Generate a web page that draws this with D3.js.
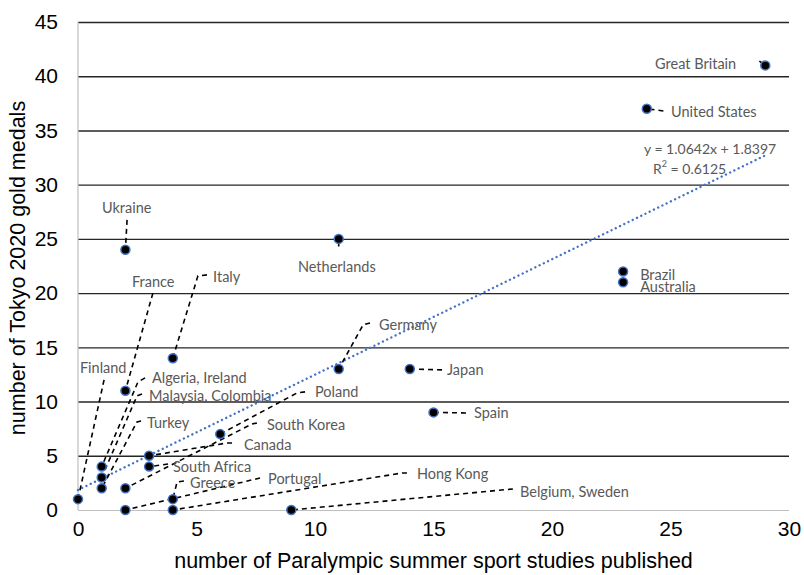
<!DOCTYPE html>
<html>
<head>
<meta charset="utf-8">
<script src="https://cdn.jsdelivr.net/npm/d3@7/dist/d3.min.js"></script>
<style>
  html, body { margin: 0; padding: 0; background: #fff; }
  svg { display: block; }
</style>
</head>
<body>
<svg id="chart" width="804" height="575"></svg>
<script>
// Countries: studies published vs. Tokyo 2020 Paralympic gold medals
const countries = ["Great Britain", "United States", "Brazil", "Australia", "Netherlands",
  "Ukraine", "France", "Italy", "Germany", "Japan", "Spain", "Poland", "South Korea",
  "Canada", "South Africa", "Greece", "Portugal", "Hong Kong", "Belgium, Sweden",
  "Finland", "Algeria, Ireland", "Malaysia, Colombia", "Turkey"];
const studies = [29, 24, 23, 23, 11, 2, 2, 4, 11, 14, 15, 6, 2, 3, 3, 4, 2, 4, 9, 0, 1, 1, 1];
const golds   = [41, 37, 22, 21, 25, 24, 11, 14, 13, 13, 9, 7, 2, 5, 4, 1, 0, 0, 0, 1, 4, 3, 2];

// Linear trend fitted to the points
const trendSlope = 1.0642;
const trendIntercept = 1.8397;
const trendR2 = 0.6125;

const xTicks = [0, 5, 10, 15, 20, 25, 30];
const yTicks = [0, 5, 10, 15, 20, 25, 30, 35, 40, 45];

// Label placement (data units): text anchor and leader bend points toward the marker
const labelLayout = [
  { at: [24.35, 41.2], lead: [[28.75, 41.4]] },
  { at: [25.02, 36.75], lead: [[24.7, 36.8]] },
  { at: [23.72, 21.75], lead: [] },
  { at: [23.72, 20.6], lead: [] },
  { at: [9.28, 22.5], lead: [[11, 24.3]] },
  { at: [1.01, 27.9], lead: [[2.07, 26.75]] },
  { at: [2.28, 21.1], lead: [[3.16, 20.0]] },
  { at: [5.7, 21.5], lead: [[5.44, 21.68], [5.06, 21.59]] },
  { at: [12.7, 17.15], lead: [[12.32, 17.25], [12.03, 17.07]] },
  { at: [15.57, 12.92], lead: [[15.36, 12.92]] },
  { at: [16.71, 8.95], lead: [[16.37, 8.95]] },
  { at: [10.0, 10.9], lead: [[9.58, 10.89], [9.24, 10.79]] },
  { at: [7.97, 7.93], lead: [[7.55, 8.03], [7.34, 7.93]] },
  { at: [7.0, 6.0], lead: [[6.5, 6.18], [6.29, 6.18]] },
  { at: [4.01, 4.05], lead: [[3.8, 4.24]] },
  { at: [4.73, 2.55], lead: [[4.47, 2.68], [4.18, 2.58]] },
  { at: [8.02, 2.95], lead: [[7.68, 2.95]] },
  { at: [14.3, 3.41], lead: [[13.88, 3.41], [13.67, 3.41]] },
  { at: [18.65, 1.75], lead: [[18.35, 1.94]] },
  { at: [0.08, 13.1], lead: [[1.1, 12.0]] },
  { at: [3.12, 12.18], lead: [[2.83, 12.18], [2.53, 11.81]] },
  { at: [3.0, 10.6], lead: [[2.7, 10.7], [2.49, 10.52]] },
  { at: [2.91, 8.03], lead: [[2.66, 8.21], [2.49, 8.12]] }
];

const svg = d3.select("#chart");
const margin = { left: 78, right: 15, top: 22, bottom: 65 };
const W = 804, H = 575;
const x = d3.scaleLinear().domain([0, 30]).range([margin.left, W - margin.right]);
const y = d3.scaleLinear().domain([0, 45]).range([H - margin.bottom, margin.top]);
const axisFont = "'Liberation Sans', Arial, sans-serif";
const labelFont = "Lato, 'Open Sans', sans-serif";

// Horizontal gridlines with value labels
const gy = svg.append("g")
  .attr("transform", `translate(${margin.left},0)`)
  .call(d3.axisLeft(y).tickValues(yTicks).tickSize(-(x(30) - x(0))).tickFormat(d3.format("d")).tickPadding(20));
gy.select(".domain").remove();
gy.selectAll(".tick line")
  .attr("stroke", d => d === 0 ? "#bfbfbf" : "#262626")
  .attr("stroke-width", d => d === 0 ? 1.2 : 1.4);
gy.selectAll(".tick text")
  .attr("font-family", axisFont)
  .attr("font-size", 21).attr("fill", "#000");

// Left axis line
svg.append("line")
  .attr("x1", x(0)).attr("x2", x(0)).attr("y1", y(45)).attr("y2", y(0))
  .attr("stroke", "#bfbfbf").attr("stroke-width", 1.2);

const gx = svg.append("g")
  .attr("transform", `translate(0,${y(0)})`)
  .call(d3.axisBottom(x).tickValues(xTicks).tickSize(0).tickPadding(11).tickFormat(d3.format("d")));
gx.select(".domain").remove();
gx.selectAll(".tick text")
  .attr("font-family", axisFont)
  .attr("font-size", 21).attr("fill", "#000");

// Axis titles
svg.append("text")
  .attr("x", (x(0) + x(30)) / 2).attr("y", 568)
  .attr("text-anchor", "middle")
  .attr("font-family", axisFont)
  .attr("font-size", 21.5).attr("fill", "#000")
  .text("number of Paralympic summer sport studies published");

svg.append("text")
  .attr("transform", `translate(25,${(y(0) + y(45)) / 2 + 2}) rotate(-90)`)
  .attr("text-anchor", "middle")
  .attr("font-family", axisFont)
  .attr("font-size", 21.5).attr("fill", "#000")
  .text("number of Tokyo 2020 gold medals");

// Trendline across the observed range
const xMax = d3.max(studies), xMin = d3.min(studies);
svg.append("line")
  .attr("x1", x(xMin)).attr("y1", y(trendSlope * xMin + trendIntercept))
  .attr("x2", x(xMax)).attr("y2", y(trendSlope * xMax + trendIntercept))
  .attr("stroke", "#4472c4").attr("stroke-width", 2.4)
  .attr("stroke-linecap", "round").attr("stroke-dasharray", "0.01 4.7");

svg.append("text")
  .attr("x", x(23.88)).attr("y", y(33.3))
  .attr("font-family", labelFont).attr("font-size", 14).attr("fill", "#595959")
  .attr("dominant-baseline", "central")
  .text(`y = ${trendSlope}x + ${trendIntercept}`);
const r2 = svg.append("text")
  .attr("x", x(24.26)).attr("y", y(31.55))
  .attr("font-family", labelFont).attr("font-size", 14).attr("fill", "#595959")
  .attr("dominant-baseline", "central");
r2.append("tspan").text("R");
r2.append("tspan").attr("font-size", 9).attr("dy", -5).text("2");
r2.append("tspan").attr("dy", 5).text(` = ${trendR2}`);

// Leader lines from labels to markers
const line = d3.line().x(d => x(d[0])).y(d => y(d[1]));
countries.forEach((c, i) => {
  const lay = labelLayout[i];
  if (!lay.lead.length) return;
  const pts = lay.lead.concat([[studies[i], golds[i]]]);
  svg.append("path")
    .attr("d", line(pts))
    .attr("fill", "none").attr("stroke", "#000")
    .attr("stroke-width", 1.6).attr("stroke-dasharray", "5 4");
});

// Markers
svg.append("g").selectAll("circle")
  .data(countries.map((c, i) => ({ c, sx: studies[i], gy: golds[i] })))
  .join("circle")
  .attr("cx", d => x(d.sx)).attr("cy", d => y(d.gy))
  .attr("r", 4.5)
  .attr("fill", "#000").attr("stroke", "#4472c4").attr("stroke-width", 1.5);

// Country labels
svg.append("g").selectAll("text")
  .data(countries)
  .join("text")
  .attr("x", (d, i) => x(labelLayout[i].at[0]))
  .attr("y", (d, i) => y(labelLayout[i].at[1]))
  .attr("dominant-baseline", "central")
  .attr("font-family", labelFont).attr("font-size", 14.5).attr("fill", "#595959")
  .text(d => d);
</script>
</body>
</html>
